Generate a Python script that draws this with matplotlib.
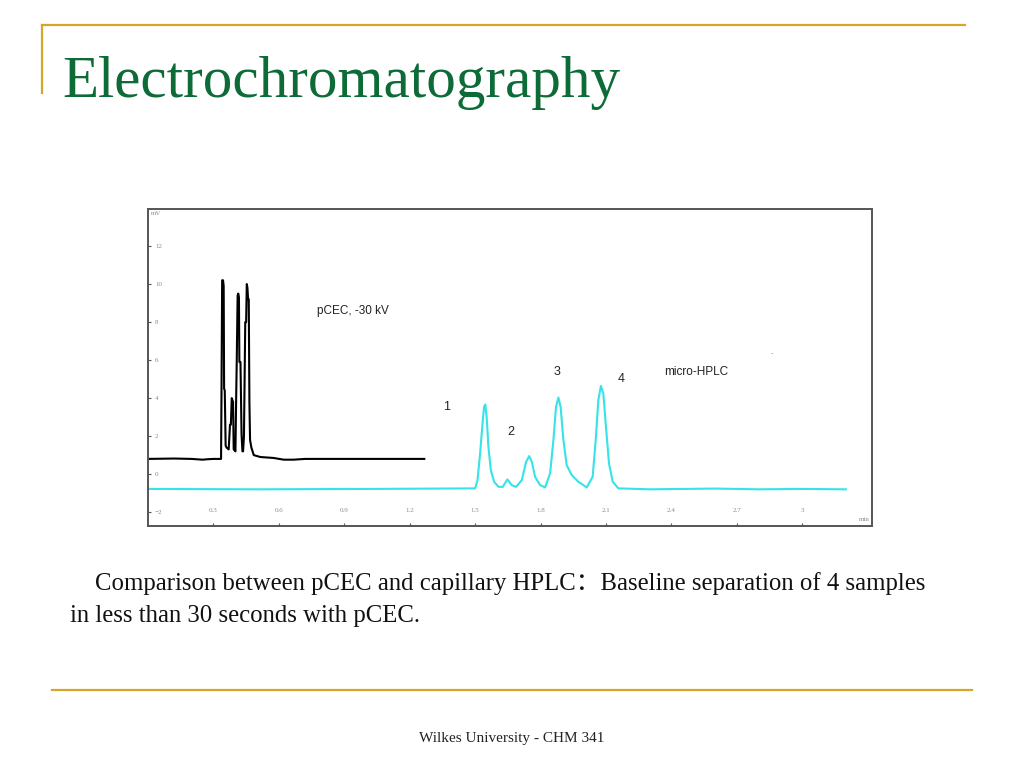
import matplotlib
matplotlib.use("Agg")
import matplotlib.pyplot as plt
from matplotlib.lines import Line2D

# pCEC trace (black): time in min, signal in mV
pcec_t = [0.00, 0.12, 0.20, 0.25, 0.27, 0.30, 0.335, 0.337, 0.340, 0.344, 0.347,
          0.349, 0.352, 0.356, 0.360, 0.370, 0.376, 0.380, 0.384, 0.387, 0.390,
          0.393, 0.401, 0.404, 0.407, 0.411, 0.414, 0.417, 0.419, 0.424, 0.429,
          0.433, 0.436, 0.440, 0.443, 0.446, 0.450, 0.453, 0.456, 0.459, 0.462,
          0.465, 0.468, 0.474, 0.485, 0.515, 0.576, 0.622, 0.668, 0.72, 1.00, 1.267]
pcec_v = [0.80, 0.82, 0.80, 0.76, 0.78, 0.80, 0.80, 4.2, 10.2, 10.2, 9.9,
          4.5, 4.4, 1.5, 1.4, 1.3, 2.6, 2.6, 4.0, 3.9, 3.8,
          1.3, 1.2, 3.8, 6.0, 9.4, 9.5, 9.3, 5.9, 5.9, 2.1,
          1.2, 1.2, 2.0, 5.0, 8.0, 8.0, 10.0, 9.8, 9.2, 9.2,
          3.8, 1.8, 1.4, 1.0, 0.9, 0.85, 0.76, 0.76, 0.80, 0.80, 0.80]

# micro-HPLC trace (cyan)
hplc_t = [0.00, 0.50, 1.00, 1.500, 1.511, 1.523, 1.534, 1.541, 1.547, 1.553,
          1.561, 1.572, 1.587, 1.607, 1.627, 1.648, 1.668, 1.688, 1.714, 1.734,
          1.748, 1.760, 1.775, 1.798, 1.821, 1.844, 1.859, 1.871, 1.882, 1.892,
          1.905, 1.920, 1.943, 1.973, 2.012, 2.039, 2.053, 2.065, 2.077, 2.088,
          2.100, 2.114, 2.131, 2.157, 2.30, 2.60, 2.80, 3.00, 3.20]
hplc_v = [-0.78, -0.80, -0.78, -0.75, -0.32, 1.09, 2.67, 3.54, 3.66, 3.0,
          1.44, 0.21, -0.40, -0.67, -0.67, -0.28, -0.58, -0.67, -0.32, 0.65,
          0.95, 0.65, -0.14, -0.58, -0.70, 0.04, 1.79, 3.54, 4.03, 3.54,
          1.79, 0.47, -0.05, -0.40, -0.70, -0.14, 1.79, 3.89, 4.64, 4.24,
          2.49, 0.56, -0.40, -0.75, -0.80, -0.76, -0.80, -0.78, -0.80]

peak_labels = ["1", "2", "3", "4"]
peak_label_t = [1.37, 1.664, 1.874, 2.169]
peak_label_v = [3.54, 2.23, 5.38, 4.98]

x_ticks = [0.3, 0.6, 0.9, 1.2, 1.5, 1.8, 2.1, 2.4, 2.7, 3.0]
x_tick_labels = ["0.3", "0.6", "0.9", "1.2", "1.5", "1.8", "2.1", "2.4", "2.7", "3"]
y_ticks = [-2, 0, 2, 4, 6, 8, 10, 12]

gold = "#D4A62A"
fig = plt.figure(figsize=(10.24, 7.68), dpi=100)
fig.patch.set_facecolor("white")

# slide decoration
fig.add_artist(Line2D([42/1024, 965/1024], [1-25/768, 1-25/768], color=gold, lw=1.6))
fig.add_artist(Line2D([42/1024, 42/1024], [1-25/768, 1-93/768], color=gold, lw=1.6))
fig.add_artist(Line2D([52/1024, 972/1024], [1-690/768, 1-690/768], color=gold, lw=1.6))

fig.text(62/1024, 1-97/768, "Electrochromatography", family="Liberation Serif",
         fontsize=42.6, color="#0D6B37", va="baseline")

# chromatogram
ax = fig.add_axes([148/1024, 1-526/768, 724/1024, 317/768])
ax.plot(pcec_t, pcec_v, color="black", lw=1.5)
ax.plot(hplc_t, hplc_v, color="#35E3E8", lw=1.5)
ax.set_xlim(0, 3.32)
ax.set_ylim(-2.73, 13.95)

for s in ax.spines.values():
    s.set_color("#555555")
    s.set_linewidth(1.4)

ax.set_xticks(x_ticks)
ax.set_xticklabels(x_tick_labels)
ax.set_yticks(y_ticks)
ax.tick_params(axis="x", direction="in", length=2, pad=-9, labelsize=5,
               labelcolor="#8a8a8a", color="#555555")
ax.tick_params(axis="y", direction="in", length=2, pad=-5, labelsize=5,
               labelcolor="#8a8a8a", color="#555555")
for lab in ax.get_xticklabels():
    lab.set_family("Liberation Serif")
    lab.set_va("bottom")
for lab in ax.get_yticklabels():
    lab.set_family("Liberation Serif")
    lab.set_ha("left")
ax.text(0.004, 0.995, "mV", transform=ax.transAxes, fontsize=5, color="#8a8a8a",
        family="Liberation Serif", ha="left", va="top")
ax.text(0.997, 0.012, "min", transform=ax.transAxes, fontsize=5, color="#8a8a8a",
        family="Liberation Serif", ha="right", va="bottom")

ax.text(0.775, 8.6, "pCEC, -30 kV", fontsize=8.5, family="Liberation Sans",
        color="#222222", va="center", ha="left")
ax.text(2.366, 5.37, "micro-HPLC", fontsize=8.5, family="Liberation Sans",
        color="#222222", va="center", ha="left")
ax.text(2.86, 6.4, ".", fontsize=6, family="Liberation Sans", color="#444444",
        ha="center", va="center")
for lab, t, v in zip(peak_labels, peak_label_t, peak_label_v):
    ax.text(t, v, lab, fontsize=9, family="Liberation Sans", color="#222222",
            ha="center", va="center")

# caption and footer
cap_font = ["Liberation Serif", "Noto Sans CJK SC"]
fig.text(95/1024, 1-590/768,
         "Comparison between pCEC and capillary HPLC\uff1aBaseline separation of 4 samples",
         family=cap_font, fontsize=17.8, color="#111111", va="baseline")
fig.text(70/1024, 1-622/768, "in less than 30 seconds with pCEC.",
         family=cap_font, fontsize=17.8, color="#111111", va="baseline")
fig.text(512/1024, 1-742/768, "Wilkes University - CHM 341", family="Liberation Serif",
         fontsize=11, color="#222222", ha="center", va="baseline")

fig.savefig("out.png", dpi=100)
